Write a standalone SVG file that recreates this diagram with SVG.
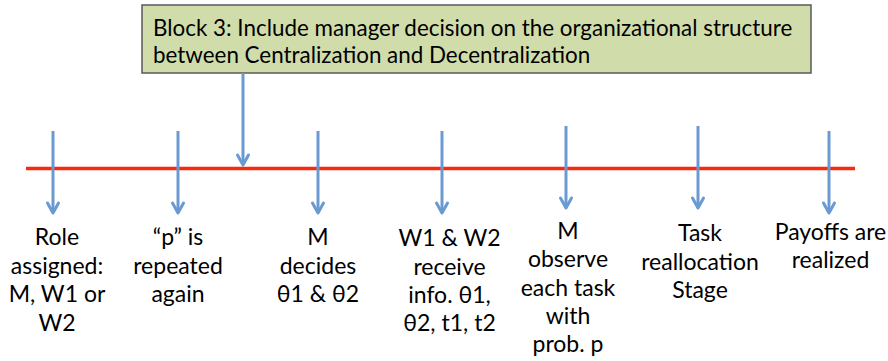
<svg xmlns="http://www.w3.org/2000/svg" width="888" height="361" viewBox="0 0 888 361">
  <defs>
    <style>
      .lbl { font-family: Lato, "Liberation Sans", "DejaVu Sans", sans-serif; font-size: 23px; fill: #000; text-anchor: middle; }
      .box { fill: #d0ddab; stroke: #595959; stroke-width: 1.5; }
      .boxtxt { font-family: Lato, "Liberation Sans", "DejaVu Sans", sans-serif; font-size: 22.4px; fill: #000; }
      .tick { stroke: #6a9ad2; stroke-width: 3; fill: none; }
      .chev { stroke: #6a9ad2; stroke-width: 3; fill: none; stroke-linecap: round; stroke-linejoin: round; }
      .axis { stroke: #f82a0c; stroke-width: 3.5; }
    </style>
  </defs>

  <!-- note box -->
  <g id="block3">
    <rect class="box" x="142" y="5" width="669" height="68"/>
    <text class="boxtxt" x="153" y="36">Block 3: Include manager decision on the organizational structure</text>
    <text class="boxtxt" x="153" y="63">between Centralization and Decentralization</text>
  </g>

  <!-- time axis -->
  <g id="timeline">
    <line class="axis" x1="26" y1="168.5" x2="855" y2="168.5"/>
  </g>

  <!-- stage arrows: shaft plus open chevron head -->
  <g id="connectors">
    <line class="tick" x1="243" y1="73" x2="243" y2="164"/>
    <path class="chev" d="M237.5,155 L243,165 L248.5,155"/>

    <line class="tick" x1="53" y1="131" x2="53" y2="212"/>
    <path class="chev" d="M47.5,203 L53,213 L58.5,203"/>

    <line class="tick" x1="178" y1="131" x2="178" y2="212"/>
    <path class="chev" d="M172.5,203 L178,213 L183.5,203"/>

    <line class="tick" x1="318" y1="131" x2="318" y2="212"/>
    <path class="chev" d="M312.5,203 L318,213 L323.5,203"/>

    <line class="tick" x1="442" y1="131" x2="442" y2="212"/>
    <path class="chev" d="M436.5,203 L442,213 L447.5,203"/>

    <line class="tick" x1="566" y1="126" x2="566" y2="207"/>
    <path class="chev" d="M560.5,198 L566,208 L571.5,198"/>

    <line class="tick" x1="698" y1="126" x2="698" y2="207"/>
    <path class="chev" d="M692.5,198 L698,208 L703.5,198"/>

    <line class="tick" x1="829" y1="131" x2="829" y2="212"/>
    <path class="chev" d="M823.5,203 L829,213 L834.5,203"/>
  </g>

  <!-- stage labels -->
  <g id="stage1">
    <text class="lbl" x="57" y="245">Role</text>
    <text class="lbl" x="57" y="273.5">assigned:</text>
    <text class="lbl" x="57" y="302">M, W1 or</text>
    <text class="lbl" x="57" y="330.5">W2</text>
  </g>
  <g id="stage2">
    <text class="lbl" x="178" y="245">“p” is</text>
    <text class="lbl" x="178" y="273.5">repeated</text>
    <text class="lbl" x="178" y="302">again</text>
  </g>
  <g id="stage3">
    <text class="lbl" x="318" y="245">M</text>
    <text class="lbl" x="318" y="273.5">decides</text>
    <text class="lbl" x="318" y="302">θ1 &amp; θ2</text>
  </g>
  <g id="stage4">
    <text class="lbl" x="449.5" y="246">W1 &amp; W2</text>
    <text class="lbl" x="449.5" y="274.5">receive</text>
    <text class="lbl" x="449.5" y="303">info. θ1,</text>
    <text class="lbl" x="449.5" y="331">θ2, t1, t2</text>
  </g>
  <g id="stage5">
    <text class="lbl" x="568" y="239">M</text>
    <text class="lbl" x="568" y="267">observe</text>
    <text class="lbl" x="568" y="295.5">each task</text>
    <text class="lbl" x="568" y="324">with</text>
    <text class="lbl" x="568" y="352">prob. p</text>
  </g>
  <g id="stage6">
    <text class="lbl" x="700" y="240.5">Task</text>
    <text class="lbl" x="700" y="269.5">reallocation</text>
    <text class="lbl" x="700" y="298">Stage</text>
  </g>
  <g id="stage7">
    <text class="lbl" x="830.5" y="240">Payoffs are</text>
    <text class="lbl" x="830.5" y="268">realized</text>
  </g>
</svg>
